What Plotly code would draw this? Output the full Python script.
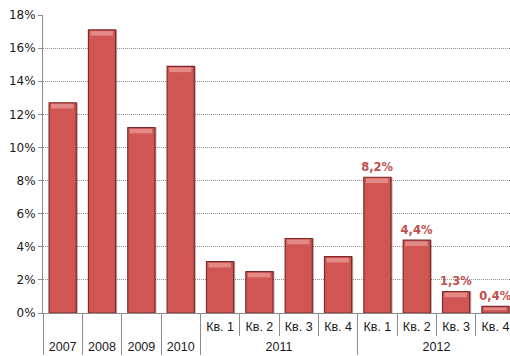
import plotly.graph_objects as go

# Growth rates, % (annual 2007-2010, quarterly 2011-2012)
outer = ["2007", "2008", "2009", "2010",
         "2011", "2011", "2011", "2011",
         "2012", "2012", "2012", "2012"]
quarters = ["Кв. 1", "Кв. 2", "Кв. 3", "Кв. 4"]
values = [12.7, 17.1, 11.2, 14.9,
          3.1, 2.5, 4.5, 3.4,
          8.2, 4.4, 1.3, 0.4]
labelled = [False] * 8 + [True] * 4

# a tall thin space after each quarter label gives the quarter row some
# extra height, which pushes the year row further down
PAD = "<span style='font-size:18px'>\u200a</span>"
inner = ([" " * (i + 1) for i in range(4)]
         + [PAD + q + PAD for q in quarters] * 2)

labels = [(f"{v:.1f}%".replace(".", ",") if show else "")
          for v, show in zip(values, labelled)]

FACE = "#cf5653"
EDGE = "#7e2a28"
HILITE = "#e38a87"
FONT = "DejaVu Sans"
AXIS_FONT = "Liberation Sans"

x = [outer, inner]
bar_w = 0.69

fig = go.Figure()

# soft shadow behind each bar
fig.add_trace(go.Bar(
    x=x, y=values, width=bar_w, offset=-bar_w / 2 + 0.04,
    marker=dict(color="rgba(60,20,20,0.35)", line=dict(width=0)),
    hoverinfo="skip", showlegend=False,
))

# main bars
fig.add_trace(go.Bar(
    x=x, y=values, width=bar_w, offset=-bar_w / 2,
    marker=dict(color=FACE, line=dict(color=EDGE, width=1.2)),
    text=labels, textposition="outside", cliponaxis=False,
    constraintext="none",
    textfont=dict(family=FONT, size=11.5, color="#c0504d", weight="bold"),
    showlegend=False,
))

# bevel highlight along the top edge of each bar
hl_h = [min(0.28, v * 0.4) for v in values]
hl_base = [v - h - 0.07 for v, h in zip(values, hl_h)]
fig.add_trace(go.Bar(
    x=x, y=hl_h, base=hl_base, width=bar_w - 0.12, offset=-bar_w / 2 + 0.05,
    marker=dict(color=HILITE, line=dict(width=0)),
    hoverinfo="skip", showlegend=False,
))

fig.update_layout(
    width=510, height=356,
    margin=dict(l=43, r=0, t=15, b=43, autoexpand=False),
    barmode="overlay",
    plot_bgcolor="white", paper_bgcolor="white",
    font=dict(family=FONT, size=11, color="#1a1a1a"),
)

fig.update_yaxes(
    range=[0, 18], dtick=2, ticksuffix="%",
    showgrid=True, gridcolor="#8f8f8f", griddash="1px,1px", gridwidth=1,
    showline=True, linecolor="#8c8c8c", linewidth=1,
    ticks="outside", ticklen=4, tickcolor="#8c8c8c",
    tickfont=dict(family=FONT, size=12, color="#1a1a1a"),
    zeroline=False, fixedrange=True, automargin=False,
)

fig.update_xaxes(
    type="multicategory", range=[-0.5, 11.37],
    showline=True, linecolor="#8c8c8c", linewidth=1,
    ticks="outside", ticklen=22, tickcolor="#8c8c8c",
    showdividers=True, dividercolor="#8c8c8c", dividerwidth=1,
    ticklabelstandoff=2, tickangle=0, automargin=False,
    tickfont=dict(family=AXIS_FONT, size=12.5, color="#1a1a1a"),
    showgrid=False, fixedrange=True,
)

fig.write_html("out.html")
